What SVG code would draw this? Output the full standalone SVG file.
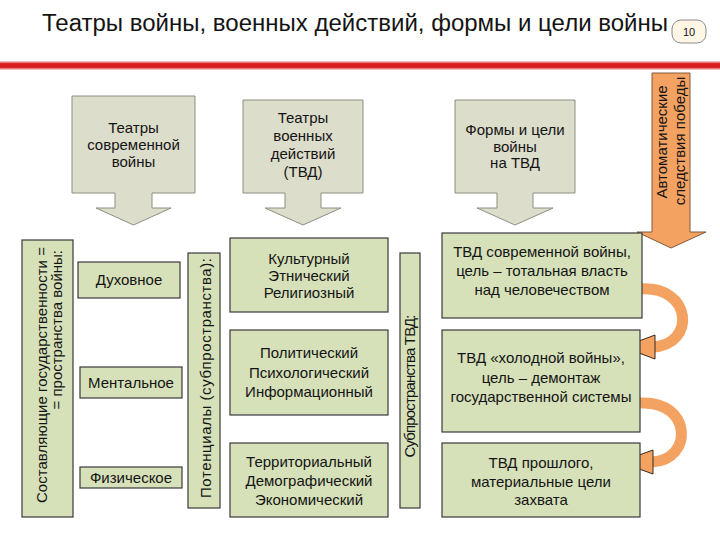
<svg xmlns="http://www.w3.org/2000/svg" width="720" height="540" viewBox="0 0 720 540">
<defs>
<style>
text{font-family:"Liberation Sans",Arial,sans-serif;fill:#141414;}
.t{font-size:15px;text-anchor:middle;}
.g{fill:#D6E1B9;stroke:#3a3a3a;stroke-width:1.2;}
.gray{fill:#DDDDCB;stroke:#8e8e82;stroke-width:1;}
.arc{fill:none;stroke:#F4A262;stroke-width:11;}
.head{fill:#F4A262;stroke:#3a2a1a;stroke-width:1;}
</style>
<linearGradient id="red" x1="0" y1="0" x2="0" y2="1">
<stop offset="0" stop-color="#fbe3e3"/>
<stop offset="0.3" stop-color="#d81a1d"/>
<stop offset="0.7" stop-color="#d81a1d"/>
<stop offset="1" stop-color="#fbe3e3"/>
</linearGradient>
</defs>
<rect width="720" height="540" fill="#ffffff"/>
<g id="title">
<text x="42" y="31" font-size="23" textLength="626" lengthAdjust="spacingAndGlyphs">Театры войны, военных действий, формы и цели войны</text>
<rect x="672" y="20" width="34" height="23" rx="9" fill="#FFF6E6" stroke="#8a8a8a" stroke-width="1"/>
<text x="689" y="36" font-size="11" text-anchor="middle">10</text>
<rect x="0" y="61" width="720" height="9" fill="url(#red)"/>
</g>
<g id="connectors">
<path class="arc" d="M640 289 C692 285 697 345 652 347"/>
<polygon class="head" points="623,347 655,335 655,359"/>
<path class="arc" d="M640 403 C692 400 694 460 652 462"/>
<polygon class="head" points="620,462 653,450 653,474"/>
</g>
<g id="auto-arrow">
<path d="M652,73 H690 V232 H706 L671,248 L637,232 H652 Z" fill="#F4A262" stroke="#7f5a3a" stroke-width="1"/>
<text class="t" transform="translate(667,142) rotate(-90)" font-size="14">Автоматические</text>
<text class="t" transform="translate(685,141) rotate(-90)" font-size="14">следствия победы</text>
</g>
<g id="gray1">
<path class="gray" d="M72,96 H195 V193 H152 V208 H171 L133.5,225 L96,208 H115 V193 H72 Z"/>
<text class="t" x="133.5" y="133">Театры</text>
<text class="t" x="133.5" y="150">современной</text>
<text class="t" x="133.5" y="167">войны</text>
</g>
<g id="gray2">
<path class="gray" d="M243,100 H363 V193 H321 V208 H341 L303,225 L265,208 H285 V193 H243 Z"/>
<text class="t" x="303" y="123">Театры</text>
<text class="t" x="303" y="141">военных</text>
<text class="t" x="303" y="159">действий</text>
<text class="t" x="303" y="177">(ТВД)</text>
</g>
<g id="gray3">
<path class="gray" d="M455,100 H575 V193 H533 V208 H553 L515,225 L477,208 H497 V193 H455 Z"/>
<text class="t" x="515" y="135">Формы и цели</text>
<text class="t" x="515" y="152">войны</text>
<text class="t" x="515" y="168">на ТВД</text>
</g>
<g id="components">
<rect class="g" x="22" y="240" width="51" height="277"/>
<text font-size="15" transform="translate(47,503) rotate(-90)" textLength="256" lengthAdjust="spacing">Составляющие государственности =</text>
<text font-size="15" text-anchor="end" transform="translate(62,250) rotate(-90)">= пространства войны:</text>
</g>
<g id="spirit">
<rect class="g" x="78" y="262" width="102" height="36"/>
<text class="t" x="129" y="285">Духовное</text>
</g>
<g id="mental">
<rect class="g" x="80" y="367" width="102" height="31"/>
<text class="t" x="131" y="388">Ментальное</text>
</g>
<g id="physical">
<rect class="g" x="80" y="467" width="102" height="21"/>
<text class="t" x="131" y="483">Физическое</text>
</g>
<g id="potentials">
<rect class="g" x="188" y="253" width="32" height="255"/>
<text class="t" transform="translate(211,378) rotate(-90)" textLength="240" lengthAdjust="spacing">Потенциалы (субпространства):</text>
</g>
<g id="cultural">
<rect class="g" x="230" y="238" width="158" height="74"/>
<text class="t" x="309" y="264">Культурный</text>
<text class="t" x="309" y="281">Этнический</text>
<text class="t" x="309" y="298">Религиозный</text>
</g>
<g id="political">
<rect class="g" x="230" y="330" width="158" height="85"/>
<text class="t" x="309" y="358">Политический</text>
<text class="t" x="309" y="378">Психологический</text>
<text class="t" x="309" y="397">Информационный</text>
</g>
<g id="territorial">
<rect class="g" x="230" y="443" width="158" height="74"/>
<text class="t" x="309" y="467">Территориальный</text>
<text class="t" x="309" y="486">Демографический</text>
<text class="t" x="309" y="505">Экономический</text>
</g>
<g id="subspaces">
<rect class="g" x="400" y="253" width="20" height="255"/>
<text class="t" transform="translate(415,386) rotate(-90)" textLength="143" lengthAdjust="spacing">Субпространства ТВД:</text>
</g>
<g id="modern">
<rect class="g" x="442" y="233" width="200" height="85"/>
<text class="t" x="542" y="257">ТВД современной войны,</text>
<text class="t" x="542" y="276">цель – тотальная власть</text>
<text class="t" x="542" y="295">над человечеством</text>
</g>
<g id="cold">
<rect class="g" x="442" y="330" width="198" height="102"/>
<text class="t" x="541" y="363">ТВД «холодной войны»,</text>
<text class="t" x="541" y="383">цель – демонтаж</text>
<text class="t" x="541" y="402">государственной системы</text>
</g>
<g id="past">
<rect class="g" x="442" y="443" width="198" height="74"/>
<text class="t" x="541" y="468">ТВД прошлого,</text>
<text class="t" x="541" y="487">материальные цели</text>
<text class="t" x="541" y="505">захвата</text>
</g>
</svg>
